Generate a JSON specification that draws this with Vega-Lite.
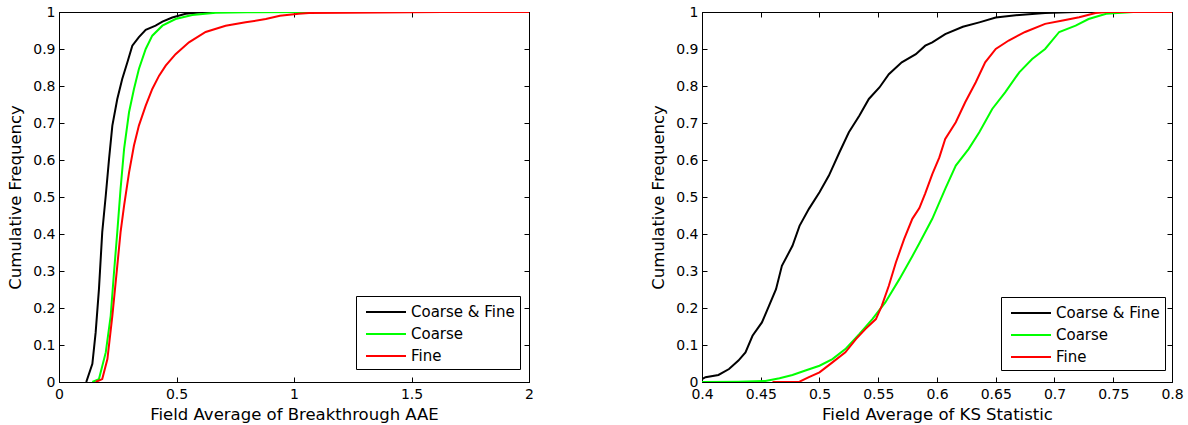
{
  "$schema": "https://vega.github.io/schema/vega-lite/v6.json",
  "padding": {"left": 7, "top": 4, "right": 4, "bottom": 0},
  "background": "white",
  "bounds": "flush",
  "spacing": 173,
  "config": {
    "font": "DejaVu Sans",
    "view": {"stroke": "black", "strokeWidth": 1},
    "axis": {
      "grid": false,
      "domainColor": "black",
      "tickColor": "black",
      "labelColor": "black",
      "titleColor": "black",
      "labelFontSize": 14,
      "titleFontSize": 16.5,
      "titleFontWeight": "normal",
      "tickSize": -5,
      "format": "~g",
      "labelFlush": false,
      "labelBound": false,
      "labelOverlap": false
    },
    "legend": {
      "orient": "none",
      "legendX": 297,
      "legendY": 284,
      "symbolType": "M-0.6,0H3.4",
      "symbolSize": 400,
      "symbolStrokeWidth": 2,
      "symbolFillColor": "transparent",
      "labelFontSize": 15,
      "labelColor": "black",
      "labelOffset": 28,
      "labelLimit": 0,
      "padding": 5,
      "rowPadding": 3,
      "strokeColor": "black",
      "fillColor": "white",
      "cornerRadius": 0
    }
  },
  "datasets": {
    "aae": [
      {"series": "Coarse & Fine", "x": 0.116, "y": 0},
      {"series": "Coarse & Fine", "x": 0.142, "y": 0.049},
      {"series": "Coarse & Fine", "x": 0.156, "y": 0.134},
      {"series": "Coarse & Fine", "x": 0.170, "y": 0.251},
      {"series": "Coarse & Fine", "x": 0.184, "y": 0.405},
      {"series": "Coarse & Fine", "x": 0.199, "y": 0.504},
      {"series": "Coarse & Fine", "x": 0.213, "y": 0.603},
      {"series": "Coarse & Fine", "x": 0.227, "y": 0.693},
      {"series": "Coarse & Fine", "x": 0.248, "y": 0.765},
      {"series": "Coarse & Fine", "x": 0.269, "y": 0.819},
      {"series": "Coarse & Fine", "x": 0.291, "y": 0.864},
      {"series": "Coarse & Fine", "x": 0.312, "y": 0.909},
      {"series": "Coarse & Fine", "x": 0.340, "y": 0.932},
      {"series": "Coarse & Fine", "x": 0.369, "y": 0.952},
      {"series": "Coarse & Fine", "x": 0.411, "y": 0.963},
      {"series": "Coarse & Fine", "x": 0.440, "y": 0.974},
      {"series": "Coarse & Fine", "x": 0.482, "y": 0.985},
      {"series": "Coarse & Fine", "x": 0.539, "y": 0.995},
      {"series": "Coarse & Fine", "x": 0.620, "y": 1.0},
      {"series": "Coarse & Fine", "x": 2.0, "y": 1.0},
      {"series": "Coarse", "x": 0.142, "y": 0},
      {"series": "Coarse", "x": 0.170, "y": 0.008},
      {"series": "Coarse", "x": 0.199, "y": 0.080},
      {"series": "Coarse", "x": 0.220, "y": 0.179},
      {"series": "Coarse", "x": 0.234, "y": 0.296},
      {"series": "Coarse", "x": 0.248, "y": 0.405},
      {"series": "Coarse", "x": 0.262, "y": 0.522},
      {"series": "Coarse", "x": 0.277, "y": 0.630},
      {"series": "Coarse", "x": 0.298, "y": 0.729},
      {"series": "Coarse", "x": 0.319, "y": 0.792},
      {"series": "Coarse", "x": 0.340, "y": 0.846},
      {"series": "Coarse", "x": 0.369, "y": 0.900},
      {"series": "Coarse", "x": 0.397, "y": 0.936},
      {"series": "Coarse", "x": 0.440, "y": 0.963},
      {"series": "Coarse", "x": 0.496, "y": 0.981},
      {"series": "Coarse", "x": 0.567, "y": 0.992},
      {"series": "Coarse", "x": 0.667, "y": 0.998},
      {"series": "Coarse", "x": 0.800, "y": 0.999},
      {"series": "Coarse", "x": 1.060, "y": 1.0},
      {"series": "Coarse", "x": 2.0, "y": 1.0},
      {"series": "Fine", "x": 0.156, "y": 0},
      {"series": "Fine", "x": 0.184, "y": 0.008},
      {"series": "Fine", "x": 0.206, "y": 0.062},
      {"series": "Fine", "x": 0.227, "y": 0.179},
      {"series": "Fine", "x": 0.248, "y": 0.314},
      {"series": "Fine", "x": 0.262, "y": 0.405},
      {"series": "Fine", "x": 0.277, "y": 0.477},
      {"series": "Fine", "x": 0.298, "y": 0.566},
      {"series": "Fine", "x": 0.319, "y": 0.639},
      {"series": "Fine", "x": 0.340, "y": 0.693},
      {"series": "Fine", "x": 0.369, "y": 0.747},
      {"series": "Fine", "x": 0.397, "y": 0.792},
      {"series": "Fine", "x": 0.426, "y": 0.828},
      {"series": "Fine", "x": 0.454, "y": 0.855},
      {"series": "Fine", "x": 0.496, "y": 0.886},
      {"series": "Fine", "x": 0.553, "y": 0.918},
      {"series": "Fine", "x": 0.624, "y": 0.946},
      {"series": "Fine", "x": 0.709, "y": 0.963},
      {"series": "Fine", "x": 0.794, "y": 0.972},
      {"series": "Fine", "x": 0.880, "y": 0.981},
      {"series": "Fine", "x": 0.940, "y": 0.990},
      {"series": "Fine", "x": 1.020, "y": 0.995},
      {"series": "Fine", "x": 1.064, "y": 0.997},
      {"series": "Fine", "x": 1.220, "y": 0.998},
      {"series": "Fine", "x": 1.630, "y": 1.0},
      {"series": "Fine", "x": 2.0, "y": 1.0}
    ],
    "ks": [
      {"series": "Coarse & Fine", "x": 0.400, "y": 0.008},
      {"series": "Coarse & Fine", "x": 0.403, "y": 0.013},
      {"series": "Coarse & Fine", "x": 0.414, "y": 0.019},
      {"series": "Coarse & Fine", "x": 0.423, "y": 0.035},
      {"series": "Coarse & Fine", "x": 0.431, "y": 0.058},
      {"series": "Coarse & Fine", "x": 0.437, "y": 0.080},
      {"series": "Coarse & Fine", "x": 0.443, "y": 0.125},
      {"series": "Coarse & Fine", "x": 0.451, "y": 0.161},
      {"series": "Coarse & Fine", "x": 0.457, "y": 0.206},
      {"series": "Coarse & Fine", "x": 0.463, "y": 0.251},
      {"series": "Coarse & Fine", "x": 0.468, "y": 0.314},
      {"series": "Coarse & Fine", "x": 0.477, "y": 0.368},
      {"series": "Coarse & Fine", "x": 0.483, "y": 0.422},
      {"series": "Coarse & Fine", "x": 0.491, "y": 0.468},
      {"series": "Coarse & Fine", "x": 0.500, "y": 0.513},
      {"series": "Coarse & Fine", "x": 0.508, "y": 0.558},
      {"series": "Coarse & Fine", "x": 0.517, "y": 0.621},
      {"series": "Coarse & Fine", "x": 0.525, "y": 0.675},
      {"series": "Coarse & Fine", "x": 0.534, "y": 0.720},
      {"series": "Coarse & Fine", "x": 0.542, "y": 0.765},
      {"series": "Coarse & Fine", "x": 0.551, "y": 0.796},
      {"series": "Coarse & Fine", "x": 0.559, "y": 0.832},
      {"series": "Coarse & Fine", "x": 0.570, "y": 0.864},
      {"series": "Coarse & Fine", "x": 0.582, "y": 0.886},
      {"series": "Coarse & Fine", "x": 0.590, "y": 0.909},
      {"series": "Coarse & Fine", "x": 0.596, "y": 0.918},
      {"series": "Coarse & Fine", "x": 0.607, "y": 0.940},
      {"series": "Coarse & Fine", "x": 0.622, "y": 0.960},
      {"series": "Coarse & Fine", "x": 0.636, "y": 0.972},
      {"series": "Coarse & Fine", "x": 0.650, "y": 0.985},
      {"series": "Coarse & Fine", "x": 0.670, "y": 0.992},
      {"series": "Coarse & Fine", "x": 0.692, "y": 0.997},
      {"series": "Coarse & Fine", "x": 0.718, "y": 1.0},
      {"series": "Coarse & Fine", "x": 0.800, "y": 1.0},
      {"series": "Coarse", "x": 0.400, "y": 0},
      {"series": "Coarse", "x": 0.431, "y": 0.001},
      {"series": "Coarse", "x": 0.454, "y": 0.003},
      {"series": "Coarse", "x": 0.466, "y": 0.010},
      {"series": "Coarse", "x": 0.477, "y": 0.019},
      {"series": "Coarse", "x": 0.488, "y": 0.031},
      {"series": "Coarse", "x": 0.500, "y": 0.044},
      {"series": "Coarse", "x": 0.511, "y": 0.062},
      {"series": "Coarse", "x": 0.522, "y": 0.089},
      {"series": "Coarse", "x": 0.534, "y": 0.130},
      {"series": "Coarse", "x": 0.545, "y": 0.170},
      {"series": "Coarse", "x": 0.556, "y": 0.215},
      {"series": "Coarse", "x": 0.568, "y": 0.278},
      {"series": "Coarse", "x": 0.579, "y": 0.340},
      {"series": "Coarse", "x": 0.585, "y": 0.375},
      {"series": "Coarse", "x": 0.596, "y": 0.441},
      {"series": "Coarse", "x": 0.607, "y": 0.522},
      {"series": "Coarse", "x": 0.616, "y": 0.585},
      {"series": "Coarse", "x": 0.627, "y": 0.630},
      {"series": "Coarse", "x": 0.636, "y": 0.675},
      {"series": "Coarse", "x": 0.647, "y": 0.738},
      {"series": "Coarse", "x": 0.658, "y": 0.783},
      {"series": "Coarse", "x": 0.670, "y": 0.837},
      {"series": "Coarse", "x": 0.681, "y": 0.873},
      {"series": "Coarse", "x": 0.692, "y": 0.900},
      {"series": "Coarse", "x": 0.704, "y": 0.946},
      {"series": "Coarse", "x": 0.718, "y": 0.963},
      {"series": "Coarse", "x": 0.729, "y": 0.981},
      {"series": "Coarse", "x": 0.744, "y": 0.995},
      {"series": "Coarse", "x": 0.767, "y": 1.0},
      {"series": "Coarse", "x": 0.800, "y": 1.0},
      {"series": "Fine", "x": 0.460, "y": 0},
      {"series": "Fine", "x": 0.483, "y": 0.001},
      {"series": "Fine", "x": 0.491, "y": 0.013},
      {"series": "Fine", "x": 0.500, "y": 0.026},
      {"series": "Fine", "x": 0.511, "y": 0.053},
      {"series": "Fine", "x": 0.522, "y": 0.080},
      {"series": "Fine", "x": 0.531, "y": 0.116},
      {"series": "Fine", "x": 0.539, "y": 0.143},
      {"series": "Fine", "x": 0.548, "y": 0.170},
      {"series": "Fine", "x": 0.553, "y": 0.206},
      {"series": "Fine", "x": 0.559, "y": 0.260},
      {"series": "Fine", "x": 0.565, "y": 0.323},
      {"series": "Fine", "x": 0.572, "y": 0.386},
      {"series": "Fine", "x": 0.579, "y": 0.441},
      {"series": "Fine", "x": 0.585, "y": 0.470},
      {"series": "Fine", "x": 0.590, "y": 0.510},
      {"series": "Fine", "x": 0.596, "y": 0.562},
      {"series": "Fine", "x": 0.602, "y": 0.607},
      {"series": "Fine", "x": 0.607, "y": 0.657},
      {"series": "Fine", "x": 0.616, "y": 0.702},
      {"series": "Fine", "x": 0.624, "y": 0.756},
      {"series": "Fine", "x": 0.633, "y": 0.810},
      {"series": "Fine", "x": 0.641, "y": 0.864},
      {"series": "Fine", "x": 0.650, "y": 0.900},
      {"series": "Fine", "x": 0.661, "y": 0.923},
      {"series": "Fine", "x": 0.675, "y": 0.946},
      {"series": "Fine", "x": 0.692, "y": 0.968},
      {"series": "Fine", "x": 0.707, "y": 0.977},
      {"series": "Fine", "x": 0.721, "y": 0.986},
      {"series": "Fine", "x": 0.735, "y": 0.997},
      {"series": "Fine", "x": 0.744, "y": 1.0},
      {"series": "Fine", "x": 0.800, "y": 1.0}
    ]
  },
  "resolve": {"scale": {"color": "independent"}, "legend": {"color": "independent"}},
  "hconcat": [
    {
      "width": 470,
      "height": 370,
      "data": {"name": "aae"},
      "resolve": {"axis": {"x": "independent", "y": "independent"}},
      "layer": [
        {
          "mark": {"type": "line", "strokeWidth": 2, "clip": true},
          "encoding": {
            "x": {"field": "x", "type": "quantitative",
              "scale": {"domain": [0, 2], "nice": false, "zero": false},
              "axis": {"orient": "bottom", "values": [0, 0.5, 1, 1.5, 2], "labelPadding": 10,
                "title": "Field Average of Breakthrough AAE", "titlePadding": 5}},
            "y": {"field": "y", "type": "quantitative",
              "scale": {"domain": [0, 1], "nice": false},
              "axis": {"orient": "left", "values": [0, 0.1, 0.2, 0.3, 0.4, 0.5, 0.6, 0.7, 0.8, 0.9, 1], "labelPadding": 9,
                "title": "Cumulative Frequency", "titlePadding": 9}},
            "color": {"field": "series", "type": "nominal",
              "scale": {"domain": ["Coarse & Fine", "Coarse", "Fine"], "range": ["#000000", "#00ff00", "#ff0000"]},
              "legend": {"title": null}}
          }
        },
        {
          "mark": {"type": "point", "opacity": 0},
          "encoding": {
            "x": {"field": "x", "type": "quantitative",
              "axis": {"orient": "top", "values": [0, 0.5, 1, 1.5, 2], "labels": false, "title": null}},
            "y": {"field": "y", "type": "quantitative",
              "axis": {"orient": "right", "values": [0, 0.1, 0.2, 0.3, 0.4, 0.5, 0.6, 0.7, 0.8, 0.9, 1], "labels": false, "title": null}}
          }
        }
      ]
    },
    {
      "width": 470,
      "height": 370,
      "data": {"name": "ks"},
      "resolve": {"axis": {"x": "independent", "y": "independent"}},
      "layer": [
        {
          "mark": {"type": "line", "strokeWidth": 2, "clip": true},
          "encoding": {
            "x": {"field": "x", "type": "quantitative",
              "scale": {"domain": [0.4, 0.8], "nice": false, "zero": false},
              "axis": {"orient": "bottom", "values": [0.4, 0.45, 0.5, 0.55, 0.6, 0.65, 0.7, 0.75, 0.8], "labelPadding": 10,
                "title": "Field Average of KS Statistic", "titlePadding": 5}},
            "y": {"field": "y", "type": "quantitative",
              "scale": {"domain": [0, 1], "nice": false},
              "axis": {"orient": "left", "values": [0, 0.1, 0.2, 0.3, 0.4, 0.5, 0.6, 0.7, 0.8, 0.9, 1], "labelPadding": 9,
                "title": "Cumulative Frequency", "titlePadding": 9}},
            "color": {"field": "series", "type": "nominal",
              "scale": {"domain": ["Coarse & Fine", "Coarse", "Fine"], "range": ["#000000", "#00ff00", "#ff0000"]},
              "legend": {"title": null, "legendX": 299, "legendY": 285}}
          }
        },
        {
          "mark": {"type": "point", "opacity": 0},
          "encoding": {
            "x": {"field": "x", "type": "quantitative",
              "axis": {"orient": "top", "values": [0.4, 0.45, 0.5, 0.55, 0.6, 0.65, 0.7, 0.75, 0.8], "labels": false, "title": null}},
            "y": {"field": "y", "type": "quantitative",
              "axis": {"orient": "right", "values": [0, 0.1, 0.2, 0.3, 0.4, 0.5, 0.6, 0.7, 0.8, 0.9, 1], "labels": false, "title": null}}
          }
        }
      ]
    }
  ]
}
